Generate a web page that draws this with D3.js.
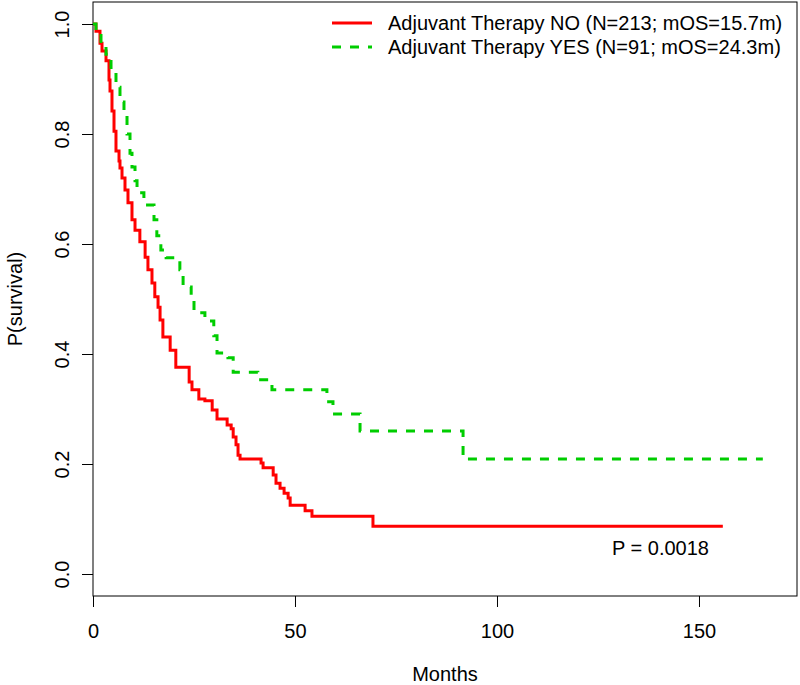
<!DOCTYPE html>
<html><head><meta charset="utf-8">
<script src="https://cdn.jsdelivr.net/npm/d3@7"></script>
<style>body{margin:0;background:#fff}svg{display:block}text{font-family:"Liberation Sans",Arial,Helvetica,sans-serif}</style>
</head><body><svg id="c" width="800" height="685"></svg>
<script>
// Kaplan-Meier step data (months, survival probability after the step)
const noTimes = [0, 0.74, 1.73, 2.23, 3.22, 3.96, 4.21, 4.70, 5.20, 5.69, 6.44, 6.68, 7.18, 7.92, 8.66, 9.65, 10.4, 11.6, 12.9, 13.6, 14.6, 15.3, 16.1, 16.6, 17.3, 19.1, 20.5, 23.8, 24.5, 26.2, 27.7, 29.5, 30.7, 33.2, 34.2, 34.7, 35.4, 35.9, 36.4, 41.6, 42.1, 44.6, 45.3, 46.3, 47.3, 48.3, 48.8, 52.5, 54.2, 69.3, 155.9];
const noSurv  = [1.0, 0.987, 0.965, 0.951, 0.933, 0.898, 0.878, 0.842, 0.805, 0.769, 0.751, 0.738, 0.720, 0.698, 0.675, 0.644, 0.625, 0.604, 0.576, 0.553, 0.529, 0.504, 0.485, 0.462, 0.431, 0.407, 0.376, 0.349, 0.335, 0.318, 0.315, 0.298, 0.282, 0.271, 0.264, 0.249, 0.235, 0.216, 0.209, 0.202, 0.193, 0.180, 0.165, 0.156, 0.147, 0.138, 0.125, 0.115, 0.105, 0.087, 0.087];
const yesTimes = [0, 0.74, 1.98, 3.22, 4.46, 5.69, 6.68, 7.67, 8.42, 9.16, 9.65, 10.4, 10.9, 12.6, 15.1, 15.8, 16.8, 18.1, 21.5, 22.3, 24.3, 25.0, 27.7, 29.9, 30.7, 33.4, 34.7, 40.8, 44.3, 57.9, 59.4, 66.1, 91.6, 165.8];
const yesSurv  = [1.0, 0.985, 0.963, 0.945, 0.915, 0.885, 0.858, 0.830, 0.800, 0.765, 0.740, 0.715, 0.693, 0.671, 0.644, 0.615, 0.589, 0.575, 0.553, 0.522, 0.498, 0.475, 0.460, 0.433, 0.402, 0.393, 0.367, 0.353, 0.335, 0.313, 0.291, 0.260, 0.209, 0.209];
const xTicks = [0, 50, 100, 150];
const yTicks = [0.0, 0.2, 0.4, 0.6, 0.8, 1.0];
const legendLabels = ["Adjuvant Therapy NO (N=213; mOS=15.7m)", "Adjuvant Therapy YES (N=91; mOS=24.3m)"];
const pLabel = "P = 0.0018";

const svg = d3.select("#c");
const L = 93, R = 797, T = 2, B = 596;
const x = d3.scaleLinear().domain([0, 174.26]).range([L, R]);
const y = d3.scaleLinear().domain([-0.04, 1.04]).range([B, T]);
const red = "#ff0000", green = "#00cd00";
const fs = 20;

// axes
const xa = svg.append("g").attr("transform", `translate(0,${B})`)
  .call(d3.axisBottom(x).tickValues(xTicks).tickFormat(d3.format("d")).tickSize(11).tickPadding(17));
const ya = svg.append("g").attr("transform", `translate(${L},0)`)
  .call(d3.axisLeft(y).tickValues(yTicks).tickFormat(d3.format(".1f")).tickSize(11));
[xa, ya].forEach(g => {
  g.select(".domain").remove();
  g.selectAll("line").attr("stroke", "#000").attr("stroke-width", 1);
  g.selectAll("text").attr("font-size", fs).attr("fill", "#000").attr("font-family", '"Liberation Sans",Arial,sans-serif');
});
ya.selectAll(".tick text")
  .attr("x", null).attr("dy", null).attr("text-anchor", "middle")
  .attr("transform", "translate(-31,0) rotate(-90)").attr("dy", "0.35em");

svg.append("rect").attr("x", L).attr("y", T).attr("width", R - L).attr("height", B - T)
  .attr("fill", "none").attr("stroke", "#000").attr("stroke-width", 1);

// curves
const line = d3.line().x(d => x(d[0])).y(d => y(d[1])).curve(d3.curveStepAfter);
svg.append("path").datum(noTimes.map((t, i) => [t, noSurv[i]]))
  .attr("d", line).attr("fill", "none").attr("stroke", red).attr("stroke-width", 3);
svg.append("path").datum(yesTimes.map((t, i) => [t, yesSurv[i]]))
  .attr("d", line).attr("fill", "none").attr("stroke", green).attr("stroke-width", 3)
  .attr("stroke-dasharray", "9,9");

// labels
svg.append("text").attr("x", (L + R) / 2).attr("y", 681).attr("text-anchor", "middle")
  .attr("font-size", fs).text("Months");
svg.append("text").attr("transform", `translate(22,${(T + B) / 2}) rotate(-90)`).attr("text-anchor", "middle")
  .attr("font-size", fs).text("P(survival)");
svg.append("text").attr("x", 612).attr("y", 555).attr("font-size", fs).text(pLabel);

// legend
const cols = [red, green], dashes = [null, "9,9"];
legendLabels.forEach((lab, i) => {
  const ly = 23 + i * 24;
  svg.append("line").attr("x1", 332).attr("x2", 372).attr("y1", ly).attr("y2", ly)
    .attr("stroke", cols[i]).attr("stroke-width", 3).attr("stroke-dasharray", dashes[i]);
  svg.append("text").attr("x", 388).attr("y", ly + 7).attr("font-size", fs).text(lab);
});
</script></body></html>
